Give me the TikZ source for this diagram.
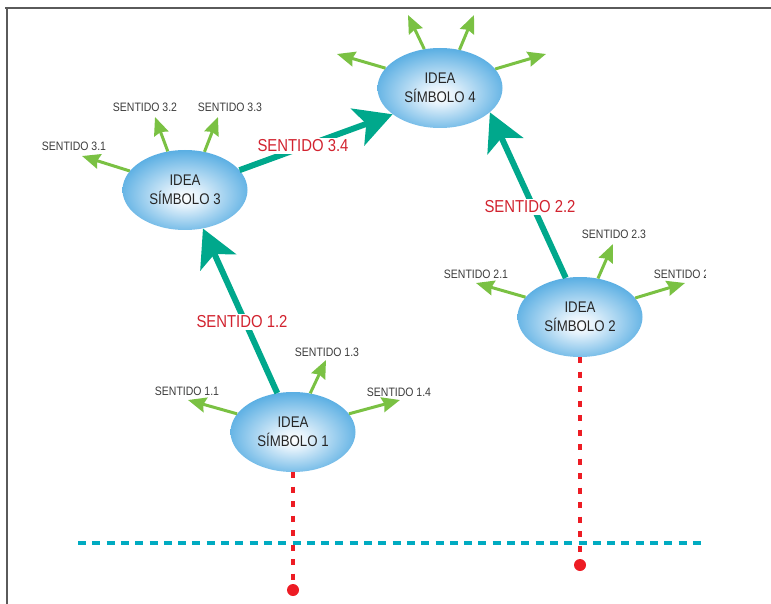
\documentclass[tikz,border=0pt]{standalone}
\usepackage{fontspec}
\setmainfont{Liberation Sans}[FakeStretch=0.86]
\usetikzlibrary{arrows.meta,shapes.geometric}
\definecolor{sky}{HTML}{5BAFE3}
\definecolor{skylight}{HTML}{E3F1FB}
\definecolor{leaf}{HTML}{7AC143}
\definecolor{teal}{HTML}{00A88C}
\definecolor{crimson}{HTML}{D2232F}
\definecolor{dotred}{HTML}{ED1C24}
\definecolor{cyanline}{HTML}{00ABC1}
\definecolor{framegray}{HTML}{5A5A5A}
\definecolor{ink}{HTML}{262626}
\pgfdeclareradialshading{bubble}{\pgfpoint{0bp}{-5bp}}{color(0bp)=(white);
  color(6bp)=(skylight); color(27bp)=(sky); color(50bp)=(sky)}
\tikzset{
  idea/.style={ellipse,minimum width=125pt,minimum height=80pt,inner sep=0pt,
               shading=bubble,align=center,text=ink,
               font=\fontsize{15.4}{19}\selectfont},
  sent/.style={text=ink!90,font=\fontsize{12.2}{14}\selectfont,inner sep=0pt},
  main/.style={text=crimson,fill=white,font=\fontsize{17.3}{20}\selectfont,inner sep=1.5pt},
  garr/.style={-{Stealth[length=18pt,width=15pt,inset=2pt]},line width=3pt,leaf},
  tarr/.style={-{Stealth[length=37pt,width=39pt,inset=9pt]},line width=6pt,teal},
  rdash/.style={line width=4.5pt,dotred,dash pattern=on 6pt off 8.5pt},
  cdash/.style={line width=4.5pt,cyanline,dash pattern=on 8pt off 6.3pt},
  dot/.style={circle,fill=dotred,minimum size=12pt,inner sep=0pt},
}
\begin{document}
\begin{tikzpicture}[x=1pt,y=-1pt]
  \useasboundingbox (0,0) rectangle (771,604);
  % frame
  \draw[framegray,line width=2pt] (5,8.5) -- (771,8.5);
  \draw[framegray,line width=1.5pt] (7,8) -- (7,604);

  \node[idea] (e1) at (293,432) {IDEA\\SÍMBOLO 1};
  \node[idea] (e2) at (580,317) {IDEA\\SÍMBOLO 2};
  \node[idea] (e3) at (185,190) {IDEA\\SÍMBOLO 3};
  \node[idea] (e4) at (440,88)  {IDEA\\SÍMBOLO 4};

  \node[dot] (d1) at (293,590) {};
  \node[dot] (d2) at (580,565) {};
  \coordinate (hl) at (78,543);
  \coordinate (hr) at (702,543);
  \draw[cdash] (hl) -- (hr);
  \draw[rdash] (e1.south) -- (d1);
  \draw[rdash] (e2.south) -- (d2);

  % green arrows
  \foreach \e/\a/\x/\y/\n in {e1/162/188/400/t11,e1/66/326/360/t13,e1/18/400/400/t14,
      e3/161/82/156/t31,e3/114/155/117/t32,e3/63/218/117/t33,
      e4/160/337/54/t41,e4/112/408/15/t42,e4/63/474/15/t43,e4/19/546/54/t44,
      e2/160/476/283/t21,e2/65/613/244/t23,e2/19/685/283/t24}{
    \coordinate (\n) at (\x,\y);
    \draw[garr] (\e.\a) -- (\n);
  }
  \node[sent] (s11) at (187,391) {SENTIDO 1.1};
  \node[sent] (s13) at (327,352) {SENTIDO 1.3};
  \node[sent] (s14) at (399,392) {SENTIDO 1.4};
  \node[sent] (s31) at (74,146)  {SENTIDO 3.1};
  \node[sent] (s32) at (145,107) {SENTIDO 3.2};
  \node[sent] (s33) at (230,107) {SENTIDO 3.3};
  \node[sent] (s21) at (476,274) {SENTIDO 2.1};
  \node[sent] (s23) at (614,234) {SENTIDO 2.3};
  \begin{scope}
    \clip (0,0) rectangle (705,604);
    \node[sent] (s24) at (686,274) {SENTIDO 2.4};
  \end{scope}

  % teal arrows
  \draw[tarr] (e1.112) -- (e3.295);
  \draw[tarr] (e3.20) -- (e4.209);
  \draw[tarr] (e2.110) -- (e4.334);
  \node[main] (m12) at (242,322) {SENTIDO 1.2};
  \node[main] (m34) at (303,146) {SENTIDO 3.4};
  \node[main] (m22) at (530,207) {SENTIDO 2.2};
\end{tikzpicture}
\end{document}
